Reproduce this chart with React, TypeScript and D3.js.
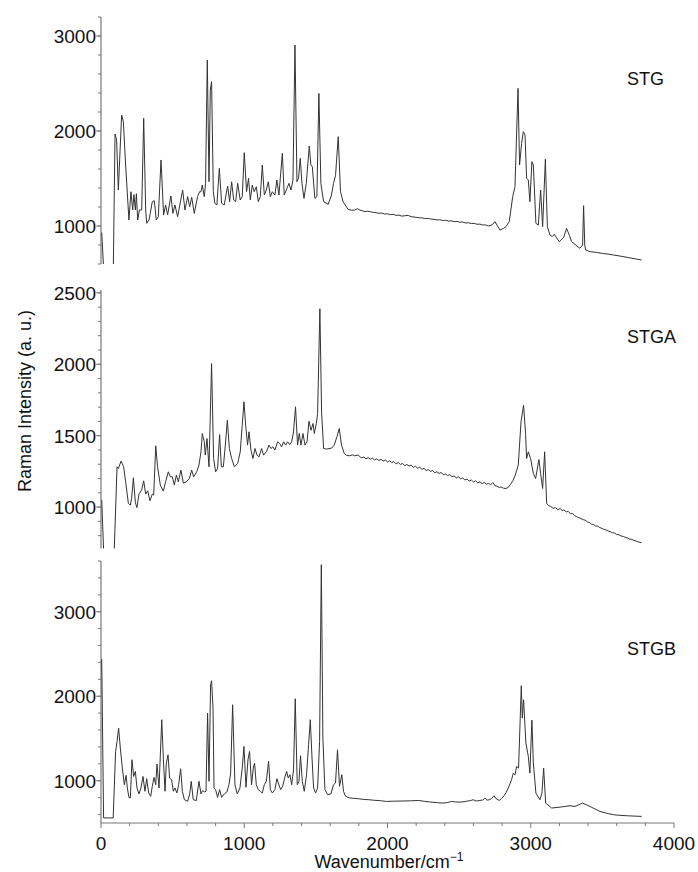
import React from 'react';
import * as d3 from 'd3';

// [wavenumber, intensity]
const stgData: [number, number][] = [
  [5, 930], [22, 450], [80, 450], [86, 560], [98, 1968], [109, 1905], [121, 1379], [144, 2168], [156, 2098],
  [172, 1642], [195, 1063], [209, 1361], [221, 1168], [230, 1330], [240, 1168], [247, 1340], [256, 1063],
  [268, 1168], [284, 1168], [298, 2133], [312, 1168], [319, 1028], [335, 1063], [344, 1133], [358, 1256],
  [372, 1267], [386, 1063], [400, 1098], [419, 1695], [437, 1116], [451, 1221], [465, 1116], [488, 1316],
  [502, 1133], [516, 1221], [535, 1098], [570, 1379], [586, 1168], [605, 1309], [619, 1203], [633, 1302],
  [651, 1133], [674, 1309], [688, 1361], [698, 1361], [707, 1431], [721, 1309], [730, 1449], [742, 2747],
  [754, 1466], [763, 2432], [772, 2519], [784, 1361], [795, 1239], [809, 1221], [826, 1607], [842, 1239],
  [860, 1221], [884, 1421], [898, 1256], [912, 1466], [926, 1274], [940, 1256], [954, 1449], [972, 1274],
  [986, 1309], [1000, 1772], [1016, 1361], [1030, 1502], [1042, 1274], [1056, 1431], [1070, 1361],
  [1084, 1414], [1098, 1256], [1112, 1309], [1126, 1642], [1140, 1326], [1154, 1379], [1168, 1466],
  [1182, 1309], [1196, 1361], [1214, 1326], [1228, 1484], [1242, 1326], [1266, 1765], [1279, 1326],
  [1298, 1396], [1312, 1449], [1326, 1379], [1340, 1484], [1354, 2905], [1368, 1466], [1379, 1502],
  [1391, 1712], [1403, 1449], [1417, 1291], [1433, 1449], [1454, 1842], [1465, 1642], [1475, 1625],
  [1493, 1291], [1507, 1309], [1521, 2396], [1535, 1449], [1554, 1256], [1586, 1228], [1609, 1326],
  [1623, 1449], [1637, 1530], [1656, 1940], [1672, 1361], [1690, 1256], [1725, 1175], [1750, 1166],
  [1772, 1168], [1790, 1182], [1807, 1168], [1825, 1160], [1842, 1151], [1860, 1156], [1880, 1150],
  [1900, 1144], [1920, 1140], [1940, 1134], [1960, 1136], [1980, 1126], [2000, 1128], [2020, 1120],
  [2040, 1122], [2060, 1112], [2080, 1114], [2100, 1104], [2120, 1108], [2145, 1112], [2165, 1098],
  [2185, 1094], [2205, 1090], [2225, 1086], [2245, 1084], [2265, 1078], [2285, 1080], [2305, 1072],
  [2325, 1070], [2345, 1064], [2365, 1066], [2385, 1058], [2405, 1060], [2425, 1052], [2445, 1054],
  [2465, 1046], [2485, 1048], [2505, 1040], [2525, 1042], [2545, 1032], [2565, 1034], [2585, 1026],
  [2605, 1028], [2625, 1018], [2645, 1020], [2665, 1010], [2685, 1012], [2704, 1000],
  [2730, 1012], [2750, 1046], [2765, 1008], [2785, 958], [2810, 975], [2827, 993], [2850, 1046],
  [2874, 1309], [2890, 1414], [2911, 2449], [2922, 1642], [2936, 1870], [2948, 1993], [2960, 1958],
  [2971, 1502], [2983, 1484], [2994, 1256], [3008, 1677], [3018, 1642], [3036, 1028], [3053, 1010],
  [3069, 1379], [3083, 993], [3102, 1702], [3116, 993], [3134, 905], [3150, 890], [3164, 912],
  [3199, 835], [3230, 880], [3250, 975], [3270, 900], [3285, 835], [3343, 765], [3362, 800],
  [3369, 1214], [3377, 800], [3383, 747], [3413, 730], [3460, 722], [3500, 712], [3540, 704],
  [3576, 695], [3630, 682], [3680, 668], [3730, 654], [3774, 642],
];

const stgaData: [number, number][] = [
  [5, 1050], [20, 650], [88, 650], [93, 711], [112, 1282], [121, 1270], [140, 1322], [158, 1282],
  [172, 1177], [191, 1026], [205, 1014], [214, 1061], [226, 1205], [240, 1031], [251, 996], [265, 1091],
  [284, 1121], [298, 1184], [312, 1091], [326, 1114], [342, 1044], [358, 1091], [368, 1084], [382, 1429],
  [395, 1282], [414, 1154], [435, 1112], [451, 1177], [470, 1247], [484, 1212], [498, 1212], [512, 1154],
  [526, 1224], [540, 1177], [558, 1259], [575, 1168], [596, 1177], [617, 1200], [633, 1259], [647, 1212],
  [668, 1247], [684, 1294], [698, 1387], [707, 1515], [721, 1457], [728, 1364], [740, 1480], [754, 1282],
  [772, 2005], [786, 1340], [800, 1247], [814, 1270], [828, 1508], [840, 1282], [854, 1282], [868, 1434],
  [882, 1608], [896, 1410], [912, 1340], [931, 1282], [954, 1305], [972, 1387], [986, 1573], [998, 1737],
  [1010, 1573], [1023, 1434], [1033, 1527], [1047, 1399], [1061, 1340], [1075, 1410], [1089, 1364],
  [1103, 1352], [1121, 1410], [1135, 1364], [1154, 1387], [1173, 1434], [1186, 1410], [1200, 1422],
  [1214, 1399], [1233, 1457], [1247, 1445], [1261, 1422], [1275, 1457], [1289, 1434], [1303, 1457],
  [1317, 1438], [1331, 1457], [1344, 1527], [1358, 1702], [1372, 1434], [1384, 1515], [1396, 1434],
  [1410, 1515], [1424, 1434], [1438, 1457], [1452, 1601], [1466, 1538], [1480, 1585], [1489, 1515],
  [1503, 1585], [1512, 1655], [1528, 2389], [1540, 1660], [1554, 1410], [1575, 1406], [1610, 1413],
  [1628, 1434], [1647, 1492], [1663, 1550], [1679, 1434], [1698, 1375], [1715, 1362], [1737, 1359],
  [1755, 1366], [1772, 1359], [1796, 1364], [1807, 1352], [1820, 1345], [1835, 1350], [1850, 1338],
  [1865, 1346], [1880, 1336], [1895, 1342], [1910, 1330], [1925, 1338], [1940, 1326], [1955, 1334],
  [1970, 1322], [1985, 1330], [2000, 1316], [2015, 1324], [2030, 1312], [2045, 1318], [2060, 1302],
  [2075, 1312], [2090, 1298], [2105, 1306], [2120, 1290], [2135, 1298], [2150, 1288], [2165, 1294],
  [2180, 1278], [2195, 1286], [2210, 1272], [2225, 1280], [2240, 1264], [2255, 1272], [2270, 1256],
  [2285, 1262], [2300, 1250], [2315, 1256], [2330, 1240], [2345, 1248], [2360, 1236], [2375, 1242],
  [2390, 1226], [2405, 1232], [2420, 1220], [2435, 1228], [2450, 1212], [2465, 1218], [2480, 1204],
  [2495, 1212], [2510, 1198], [2525, 1204], [2540, 1190], [2555, 1196], [2570, 1182], [2585, 1190],
  [2600, 1176], [2615, 1184], [2630, 1170], [2645, 1176], [2660, 1164], [2675, 1172], [2690, 1160],
  [2705, 1166], [2720, 1156], [2735, 1172], [2750, 1150], [2765, 1146], [2780, 1138], [2795, 1140],
  [2810, 1132], [2827, 1130], [2845, 1140], [2859, 1160], [2876, 1186],
  [2892, 1224], [2913, 1294], [2932, 1597], [2950, 1713], [2964, 1515], [2971, 1340], [2983, 1387],
  [2999, 1340], [3018, 1235], [3034, 1200], [3057, 1333], [3069, 1235], [3083, 1130], [3097, 1387],
  [3111, 1026], [3125, 1010], [3140, 1004], [3157, 991], [3172, 996], [3190, 982], [3205, 990],
  [3220, 976], [3232, 980], [3248, 966], [3262, 970], [3278, 952], [3292, 956], [3306, 940],
  [3320, 933], [3336, 926], [3350, 920], [3366, 912], [3380, 908], [3396, 896], [3410, 892],
  [3424, 880], [3438, 878], [3452, 868], [3468, 866], [3482, 856], [3496, 852], [3510, 844],
  [3526, 840], [3540, 832], [3556, 828], [3570, 820], [3586, 818], [3600, 808], [3616, 806],
  [3630, 798], [3646, 794], [3660, 788], [3676, 784], [3690, 776], [3706, 774], [3720, 766],
  [3736, 762], [3750, 756], [3774, 751],
];

const stgbData: [number, number][] = [
  [5, 2440], [18, 560], [85, 560], [102, 1347], [112, 1465], [123, 1623], [135, 1386], [149, 1150],
  [163, 953], [175, 1063], [184, 915], [195, 803], [205, 796], [216, 1249], [228, 1051], [240, 1110],
  [251, 915], [265, 844], [279, 915], [293, 1051], [307, 875], [319, 1024], [333, 855], [347, 816],
  [358, 934], [370, 1040], [382, 953], [391, 1197], [405, 915], [424, 1722], [435, 1268], [447, 875],
  [456, 1209], [468, 1307], [479, 1032], [493, 1012], [505, 875], [516, 915], [530, 855], [542, 953],
  [556, 1142], [568, 875], [582, 776], [605, 757], [619, 844], [630, 993], [644, 776], [665, 765],
  [684, 993], [698, 844], [709, 883], [723, 867], [733, 875], [744, 1801], [754, 993], [765, 2136],
  [772, 2183], [782, 1860], [789, 915], [800, 895], [814, 803], [828, 895], [842, 803], [861, 844],
  [879, 867], [893, 953], [905, 1091], [919, 1899], [935, 953], [951, 844], [970, 915], [986, 1150],
  [998, 1406], [1012, 922], [1026, 1249], [1037, 1347], [1051, 953], [1063, 1150], [1072, 1209],
  [1084, 953], [1098, 895], [1112, 875], [1126, 855], [1140, 953], [1154, 993], [1170, 1229],
  [1182, 895], [1196, 855], [1214, 895], [1228, 1024], [1240, 961], [1254, 895], [1268, 934],
  [1282, 1032], [1296, 1110], [1307, 1032], [1319, 1071], [1331, 953], [1344, 1130], [1356, 1970],
  [1370, 953], [1382, 993], [1393, 1296], [1405, 993], [1419, 875], [1435, 1071], [1449, 1426],
  [1461, 1722], [1472, 1307], [1484, 915], [1498, 855], [1512, 915], [1526, 1465], [1538, 3556],
  [1549, 1505], [1563, 895], [1582, 835], [1605, 844], [1623, 953], [1637, 973], [1651, 1367],
  [1665, 934], [1681, 1071], [1693, 875], [1707, 816], [1737, 796], [1765, 792], [1795, 788],
  [1837, 778], [1870, 776], [1900, 770], [1950, 764], [1993, 755], [2040, 758], [2100, 760],
  [2160, 762], [2214, 767], [2260, 756], [2300, 748], [2350, 740], [2388, 736], [2420, 742],
  [2447, 755], [2475, 750], [2505, 747], [2535, 752], [2560, 760], [2580, 766], [2598, 775],
  [2620, 760], [2645, 767], [2665, 772], [2680, 794], [2695, 770], [2710, 775], [2727, 790],
  [2743, 822], [2760, 785], [2780, 767], [2797, 790], [2813, 822], [2828, 860], [2843, 913], [2866, 1011],
  [2878, 1090], [2890, 1070], [2901, 1169], [2915, 1150], [2934, 2124], [2941, 1741], [2950, 1958],
  [2966, 1446], [2983, 1288], [2994, 1090], [3008, 1717], [3018, 1209], [3036, 854], [3064, 775],
  [3078, 854], [3090, 1150], [3104, 736], [3146, 677], [3204, 688], [3274, 704], [3309, 696],
  [3362, 736], [3413, 696], [3483, 637], [3530, 615], [3576, 598], [3630, 590], [3680, 585], [3774, 578],
];

const panelLabels = ['STG', 'STGA', 'STGB'];
const stgTicks = [1000, 2000, 3000];
const stgaTicks = [1000, 1500, 2000, 2500];
const stgbTicks = [1000, 2000, 3000];
const xTicks = [0, 1000, 2000, 3000, 4000];

const W = 698;
const H = 872;
const FONT = '"Liberation Sans", Arial, sans-serif';

const x = d3.scaleLinear().domain([0, 4000]).range([101, 674]);

const panels = [
  { name: panelLabels[0], data: stgData, ticks: stgTicks, minor: 200,
    y: d3.scaleLinear().domain([600, 3200]).range([264, 17]), labelY: 85 },
  { name: panelLabels[1], data: stgaData, ticks: stgaTicks, minor: 100,
    y: d3.scaleLinear().domain([710, 2520]).range([548.5, 290]), labelY: 343 },
  { name: panelLabels[2], data: stgbData, ticks: stgbTicks, minor: 200,
    y: d3.scaleLinear().domain([500, 3600]).range([823, 561]), labelY: 655 },
];

const AXIS = '#777';

export default function App() {
  return (
    <svg width={W} height={H} style={{ display: 'block', position: 'absolute', left: 0, top: 0, background: '#fff' }}
      fontFamily={FONT}>
      <defs>
        {panels.map((p, i) => {
          const [y0, y1] = p.y.range();
          return (
            <clipPath id={`clip${i}`} key={i}>
              <rect x={x(0)} y={y1} width={x(4000) - x(0)} height={y0 - y1} />
            </clipPath>
          );
        })}
      </defs>

      {panels.map((p, i) => {
        const [y0, y1] = p.y.range();
        const [d0, d1] = p.y.domain();
        const minors = d3.range(Math.ceil(d0 / p.minor) * p.minor, d1 + 1, p.minor);
        const line = d3.line<[number, number]>().x(d => x(d[0])).y(d => p.y(d[1]));
        return (
          <g key={p.name}>
            <line x1={x(0)} x2={x(0)} y1={y0} y2={y1} stroke={AXIS} strokeWidth={1.2} />
            {minors.map(v => (
              <line key={v} x1={x(0) - 3} x2={x(0)} y1={p.y(v)} y2={p.y(v)} stroke={AXIS} strokeWidth={1} />
            ))}
            {p.ticks.map(v => (
              <g key={v}>
                <line x1={x(0) - 5} x2={x(0)} y1={p.y(v)} y2={p.y(v)} stroke={AXIS} strokeWidth={1} />
                <text x={x(0) - 5} y={p.y(v)} dy="0.36em" textAnchor="end" fontSize={19} fill="#111">{v}</text>
              </g>
            ))}
            <path d={line(p.data) || ''} fill="none" stroke="#333" strokeWidth={1}
              clipPath={`url(#clip${i})`} strokeLinejoin="round" />
            <text x={627} y={p.labelY} fontSize={18} fill="#111">{p.name}</text>
          </g>
        );
      })}

      {/* shared x axis */}
      <line x1={x(0)} x2={x(4000)} y1={823} y2={823} stroke={AXIS} strokeWidth={1.2} />
      {d3.range(0, 4001, 200).map(v => (
        <line key={v} x1={x(v)} x2={x(v)} y1={823} y2={v % 1000 === 0 ? 828 : 826} stroke={AXIS} strokeWidth={1} />
      ))}
      {xTicks.map(v => (
        <text key={v} x={x(v)} y={850} textAnchor="middle" fontSize={19} fill="#111">{v}</text>
      ))}
      <text x={389} y={868} textAnchor="middle" fontSize={18} fill="#111">
        Wavenumber/cm<tspan dy={-7} fontSize={12}>−1</tspan>
      </text>
      <text transform="translate(31,401) rotate(-90)" textAnchor="middle" fontSize={18} fill="#111">
        Raman Intensity (a. u.)
      </text>
    </svg>
  );
}
